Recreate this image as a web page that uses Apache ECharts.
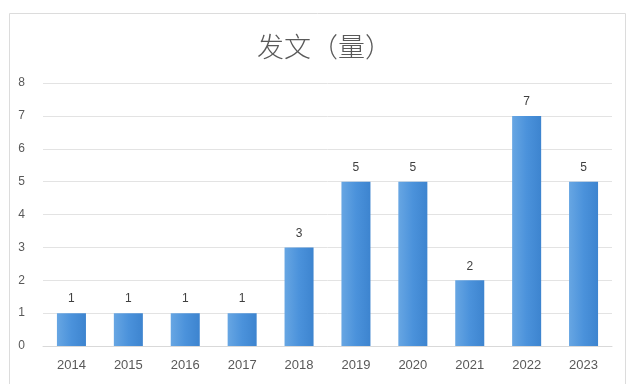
<!DOCTYPE html>
<html>
<head>
<meta charset="utf-8">
<script src="https://cdn.jsdelivr.net/npm/echarts@6/dist/echarts.min.js"></script>
<style>html,body{margin:0;padding:0;background:#fff;}#c{width:627px;height:384px;}</style>
</head>
<body>
<div id="c"></div>
<script>
const categories = ['2014','2015','2016','2017','2018','2019','2020','2021','2022','2023'];
const values = [1,1,1,1,3,5,5,2,7,5];
const titleText = '发文（量）';

const chart = echarts.init(document.getElementById('c'), null, {renderer:'canvas'});
chart.setOption({
  backgroundColor: '#ffffff',
  animation: false,
  graphic: [{
    type: 'rect', left: 9, top: 13, z: -1,
    shape: { width: 616, height: 372 },
    style: { fill: '#fff', stroke: '#dcdcdc', lineWidth: 1 }
  }],
  title: {
    text: titleText, left: 252, top: 28,
    textStyle: { fontFamily: 'Noto Sans CJK SC', fontWeight: 300, fontSize: 27, color: '#595959' }
  },
  grid: { left: 43, right: 15, top: 83, bottom: 38 },
  xAxis: {
    type: 'category', data: categories,
    axisLine: { lineStyle: { color: '#d9d9d9' } },
    axisTick: { show: false },
    axisLabel: { color: '#595959', fontSize: 13, margin: 13, fontFamily: 'Liberation Sans' }
  },
  yAxis: {
    type: 'value', min: 0, max: 8, interval: 1,
    axisLine: { show: false }, axisTick: { show: false },
    splitLine: { lineStyle: { color: '#e3e3e3' } },
    axisLabel: { color: '#595959', fontSize: 12, margin: 18, fontFamily: 'Liberation Sans' }
  },
  series: [{
    type: 'bar', data: values, barWidth: '51%',
    itemStyle: {
      color: new echarts.graphic.LinearGradient(0,0,1,0,[
        {offset:0, color:'#67a6e3'},
        {offset:0.5, color:'#4b92db'},
        {offset:1, color:'#3d84cf'}
      ])
    },
    label: { show: true, position: 'top', distance: 8, color: '#404040', fontSize: 12, fontFamily: 'Liberation Sans' }
  }]
});
</script>
</body>
</html>
